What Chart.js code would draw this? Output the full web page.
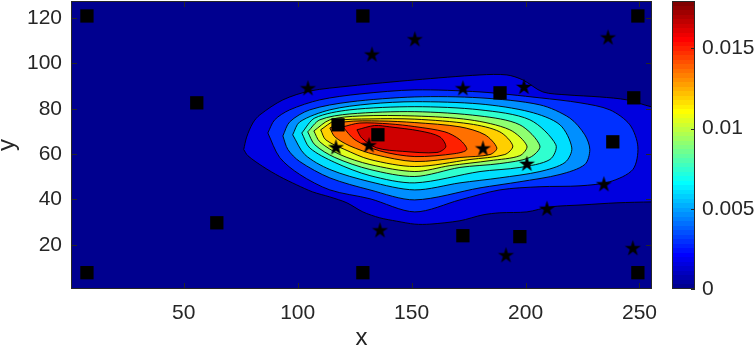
<!DOCTYPE html>
<html>
<head>
<meta charset="utf-8">
<script src="https://cdn.jsdelivr.net/npm/chart.js@4.4.3/dist/chart.umd.min.js"></script>
<style>
  html, body { margin: 0; background: #fff; }
  #main { position: absolute; left: 0; top: 0; width: 672px; height: 353px; }
  #bar { position: absolute; left: 660px; top: 0; width: 94px; height: 353px; }
</style>
</head>
<body>
<div id="main"><canvas id="plot"></canvas></div>
<div id="bar"><canvas id="cbar"></canvas></div>
<script>
// axis ticks
const xTicks = [50, 100, 150, 200, 250];
const yTicks = [20, 40, 60, 80, 100, 120];
const cbTicks = [0, 0.005, 0.01, 0.015];
const cMax = 0.01795;

// contour levels (lowest first)
const levels = [0, 0.0015, 0.003, 0.0045, 0.006, 0.0075, 0.009, 0.0105, 0.012, 0.0135, 0.015, 0.0165];

// contour rings, one per level above zero (x, y in data units)
const lvl1X = [76.3, 77.6, 80.3, 83.4, 93.5, 105.3, 122.9, 151.4, 180.0, 191.8, 198.8, 207.6, 218.2, 232.6, 244.5, 255.4, 262, 262, 255.4, 240.1, 225.2, 210.7, 200.6, 188.7, 181.3, 171.2, 158.0, 151.4, 143.5, 136.0, 128.6, 121.6, 114.1, 106.6, 99.6, 92.1, 84.7, 78.1];
const lvl1Y = [62.0, 67.5, 73.7, 77.3, 83.9, 87.8, 90.0, 92.7, 94.9, 94.9, 92.7, 87.4, 86.1, 85.2, 83.9, 80.8, 80, 38.9, 38.9, 38.5, 37.6, 36.7, 34.5, 34.1, 33.2, 30.6, 29.1, 29.1, 30.4, 31.9, 34.5, 38.5, 41.1, 43.3, 46.4, 50.1, 54.5, 59.3];
const lvl2X = [86.9, 89.9, 96.5, 109.7, 127.3, 151.4, 180.0, 206.3, 223.9, 237.0, 245.8, 249.3, 247.1, 237.0, 223.9, 206.3, 188.7, 171.2, 151.4, 131.7, 114.1, 100.9, 92.1];
const lvl2Y = [69.3, 75.1, 79.5, 83.9, 86.5, 88.3, 87.4, 84.8, 82.6, 79.5, 72.9, 63.2, 53.2, 47.8, 46.0, 45.6, 44.2, 39.8, 34.5, 40.3, 44.2, 51.0, 58.5];
const lvl3X = [93.5, 96.5, 105.3, 122.9, 151.4, 180.0, 206.3, 219.4, 226.0, 228.2, 226.0, 215.1, 197.5, 180.0, 151.4, 131.7, 114.1, 100.9, 95.7];
const lvl3Y = [68.0, 74.2, 79.5, 83.0, 85.2, 84.8, 81.7, 75.9, 68.5, 62.0, 55.4, 51.0, 47.8, 45.1, 39.8, 44.2, 49.5, 56.7, 62.0];
const lvl4X = [97.8, 100.9, 114.1, 131.7, 151.4, 180.0, 201.9, 215.1, 220.3, 217.3, 206.3, 188.7, 171.2, 151.4, 131.7, 114.1, 103.1];
const lvl4Y = [68.5, 74.2, 79.5, 82.1, 83.1, 82.1, 78.6, 72.9, 62.7, 56.3, 52.3, 49.5, 47.3, 44.2, 47.8, 53.2, 59.8];
const lvl5X = [101.8, 107.5, 122.9, 151.4, 180.0, 201.9, 213.3, 210.7, 197.5, 180.0, 151.4, 131.7, 116.3, 105.3];
const lvl5Y = [69.3, 75.9, 79.5, 80.9, 79.5, 75.1, 64.1, 57.6, 54.1, 52.3, 47.3, 50.5, 56.3, 62.7];
const lvl6X = [104.4, 109.7, 122.9, 151.4, 180.0, 197.5, 206.3, 201.9, 188.7, 171.2, 151.4, 131.7, 116.3, 107.5];
const lvl6Y = [69.8, 75.1, 77.7, 78.7, 76.8, 72.9, 63.6, 58.5, 55.8, 54.1, 50.1, 53.2, 58.5, 64.1];
const lvl7X = [107.1, 114.1, 127.3, 151.4, 175.6, 193.1, 200.6, 197.5, 184.4, 166.8, 151.4, 131.7, 118.5, 109.7];
const lvl7Y = [70.2, 75.1, 76.8, 76.8, 75.1, 70.7, 63.6, 59.3, 57.1, 54.9, 52.3, 55.4, 59.8, 65.4];
const lvl8X = [110.1, 116.3, 131.7, 151.4, 175.6, 188.7, 194.4, 190.9, 175.6, 151.4, 131.7, 120.7, 112.3];
const lvl8Y = [70.7, 74.6, 75.5, 75.4, 73.3, 69.8, 63.6, 59.8, 57.6, 54.5, 57.6, 62.0, 66.3];
const lvl9X = [114.1, 120.7, 136.0, 151.4, 171.2, 182.2, 187.4, 184.4, 171.2, 151.4, 133.8, 122.9, 116.3];
const lvl9Y = [71.5, 74.2, 74.6, 73.9, 72.0, 68.5, 62.7, 59.8, 58.5, 56.7, 59.8, 63.6, 67.6];
const lvl10X = [119.8, 127.3, 140.4, 151.4, 164.6, 171.2, 174.2, 169.0, 151.4, 136.0, 125.1];
const lvl10Y = [72.0, 73.7, 73.3, 72.1, 69.8, 66.3, 62.0, 60.2, 58.9, 61.4, 66.3];
const lvl11X = [126.0, 133.8, 140.4, 153.6, 162.4, 165.0, 161.1, 146.1, 134.7, 128.1];
const lvl11Y = [70.7, 72.6, 72.0, 70.2, 67.6, 63.2, 60.7, 61.2, 62.7, 67.1];

// markers
const squareX = [7.5, 128.6, 249.3, 7.5, 128.6, 249.3, 55.7, 64.5, 117.7, 135.2, 188.8, 247.5, 238.3, 172.5, 197.5];
const squareY = [120.9, 120.9, 120.9, 7.7, 7.7, 7.7, 82.6, 29.7, 72.9, 68.5, 87.0, 84.8, 65.4, 24.0, 23.6];
const starX = [104.5, 132.6, 151.4, 116.8, 131.3, 172.5, 199.3, 236.2, 181.3, 200.6, 136.1, 191.4, 209.4, 234.4, 247.1];
const starY = [89.2, 104.1, 110.8, 63.2, 64.1, 89.2, 89.8, 111.6, 62.7, 55.9, 26.6, 15.6, 36.1, 46.9, 18.7];

const rings = [
  [lvl1X, lvl1Y], [lvl2X, lvl2Y], [lvl3X, lvl3Y], [lvl4X, lvl4Y], [lvl5X, lvl5Y], [lvl6X, lvl6Y],
  [lvl7X, lvl7Y], [lvl8X, lvl8Y], [lvl9X, lvl9Y], [lvl10X, lvl10Y], [lvl11X, lvl11Y]
];

const axisColor = '#262626';
const family = '"Liberation Sans", Arial, Helvetica, sans-serif';
const tickFont = { family, size: 21 };
const labelFont = { family, size: 24, lineHeight: 1 };

// MATLAB jet(64), index 1..64
function jet(i) {
  const u = k => (k < 1 || k > 47) ? 0 : k <= 16 ? k / 16 : k <= 31 ? 1 : (48 - k) / 16;
  return [u(i - 24), u(i - 8), u(i + 8)];
}
function rgb(c) {
  return 'rgb(' + c.map(v => Math.round(v * 255)).join(',') + ')';
}
function levelColor(v) {
  const i = Math.min(64, Math.floor(v / cMax * 64) + 1);
  return rgb(jet(i));
}

function makeStar(R) {
  const c = document.createElement('canvas');
  const s = Math.ceil(2 * R + 2);
  c.width = c.height = s;
  const g = c.getContext('2d');
  g.fillStyle = '#000';
  g.beginPath();
  for (let k = 0; k < 10; k++) {
    const r = k % 2 ? R * 0.382 : R;
    const a = -Math.PI / 2 + k * Math.PI / 5;
    const px = s / 2 + r * Math.cos(a), py = s / 2 + r * Math.sin(a) + R * 0.1;
    if (k) g.lineTo(px, py); else g.moveTo(px, py);
  }
  g.closePath();
  g.fill();
  return c;
}

// drop the label overflow padding chart.js adds around each axis
function noEdgePadding(s) {
  s.paddingTop = 0; s.paddingBottom = 0; s.paddingLeft = 0; s.paddingRight = 0;
}

const datasets = rings.map(([xs, ys], i) => {
  const pts = xs.map((x, j) => ({ x, y: ys[j] }));
  pts.push(pts[0]);
  return {
    data: pts,
    showLine: true,
    fill: 'shape',
    tension: 0.3,
    backgroundColor: levelColor(levels[i + 1]),
    borderColor: 'rgba(0,0,0,0.9)',
    borderWidth: 1,
    pointRadius: 0,
    order: 50 - i
  };
});
datasets.push({
  data: squareX.map((x, i) => ({ x, y: squareY[i] })),
  pointStyle: 'rect',
  pointRadius: 9.4,
  backgroundColor: '#000',
  borderWidth: 0,
  order: 1
});
datasets.push({
  data: starX.map((x, i) => ({ x, y: starY[i] })),
  pointStyle: makeStar(8.5),
  order: 0
});

const plotFrame = {
  id: 'plotFrame',
  beforeDatasetsDraw(chart) {
    const { ctx, chartArea: a } = chart;
    ctx.save();
    ctx.fillStyle = levelColor(levels[0]);
    ctx.fillRect(a.left, a.top, a.right - a.left, a.bottom - a.top);
    ctx.restore();
  },
  afterDatasetsDraw(chart) {
    const { ctx, chartArea: a, scales: { x, y } } = chart;
    ctx.save();
    ctx.strokeStyle = axisColor;
    ctx.lineWidth = 1;
    ctx.beginPath();
    xTicks.forEach(v => {
      const p = Math.round(x.getPixelForValue(v)) + 0.5;
      ctx.moveTo(p, a.bottom); ctx.lineTo(p, a.bottom - 6);
      ctx.moveTo(p, a.top); ctx.lineTo(p, a.top + 6);
    });
    yTicks.forEach(v => {
      const p = Math.round(y.getPixelForValue(v)) + 0.5;
      ctx.moveTo(a.left, p); ctx.lineTo(a.left + 6, p);
      ctx.moveTo(a.right, p); ctx.lineTo(a.right - 6, p);
    });
    ctx.stroke();
    ctx.strokeRect(a.left + 0.5, a.top + 0.5, a.right - a.left - 1, a.bottom - a.top - 1);
    ctx.restore();
  }
};

new Chart(document.getElementById('plot'), {
  type: 'scatter',
  data: { datasets },
  options: {
    responsive: true,
    maintainAspectRatio: false,
    animation: false,
    devicePixelRatio: 1,
    layout: { autoPadding: false, padding: { top: 1, right: 20, left: 0, bottom: 0 } },
    plugins: { legend: { display: false }, tooltip: { enabled: false } },
    scales: {
      x: {
        type: 'linear', min: 0.5, max: 255.5,
        afterBuildTicks: s => { s.ticks = xTicks.map(value => ({ value })); },
        afterFit: s => { s.height = 64; noEdgePadding(s); },
        grid: { display: false, drawTicks: false },
        border: { display: false },
        ticks: { font: tickFont, color: axisColor, padding: 12, maxRotation: 0, autoSkip: false },
        title: { display: true, text: 'x', font: labelFont, color: axisColor, padding: { top: 0, bottom: 3 } }
      },
      y: {
        type: 'linear', min: 0.5, max: 127.5,
        afterBuildTicks: s => { s.ticks = yTicks.map(value => ({ value })); },
        afterFit: s => { s.width = 71; noEdgePadding(s); },
        grid: { display: false, drawTicks: false },
        border: { display: false },
        ticks: { font: tickFont, color: axisColor, padding: 9, autoSkip: false },
        title: { display: true, text: 'y', font: labelFont, color: axisColor, padding: { top: -5, bottom: 0 } }
      }
    }
  },
  plugins: [plotFrame]
});

// colorbar
function jetGradient(chart) {
  const a = chart.chartArea;
  if (!a) return '#000080';
  const g = chart.ctx.createLinearGradient(0, a.bottom, 0, a.top);
  for (let i = 1; i <= 64; i++) {
    const c = rgb(jet(i));
    g.addColorStop((i - 1) / 64, c);
    g.addColorStop(i / 64, c);
  }
  return g;
}

const barFrame = {
  id: 'barFrame',
  afterDatasetsDraw(chart) {
    const { ctx, chartArea: a, scales: { y } } = chart;
    ctx.save();
    ctx.strokeStyle = axisColor;
    ctx.lineWidth = 1;
    ctx.beginPath();
    cbTicks.forEach(v => {
      const p = Math.round(y.getPixelForValue(v)) + 0.5;
      ctx.moveTo(a.right, p); ctx.lineTo(a.right - 4, p);
    });
    ctx.stroke();
    ctx.strokeRect(a.left + 0.5, a.top + 0.5, a.right - a.left - 1, a.bottom - a.top - 1);
    ctx.restore();
  }
};

new Chart(document.getElementById('cbar'), {
  type: 'bar',
  data: {
    labels: [''],
    datasets: [{
      data: [cMax],
      backgroundColor: ctx => jetGradient(ctx.chart),
      borderWidth: 0,
      barPercentage: 1,
      categoryPercentage: 1
    }]
  },
  options: {
    responsive: true,
    maintainAspectRatio: false,
    animation: false,
    devicePixelRatio: 1,
    layout: { autoPadding: false, padding: { left: 12, top: 1, bottom: 64, right: 0 } },
    plugins: { legend: { display: false }, tooltip: { enabled: false } },
    scales: {
      x: { display: false },
      y: {
        position: 'right', min: 0, max: cMax,
        afterBuildTicks: s => { s.ticks = cbTicks.map(value => ({ value })); },
        afterFit: s => { s.width = 59; noEdgePadding(s); },
        grid: { display: false, drawTicks: false },
        border: { display: false },
        ticks: { font: tickFont, color: axisColor, padding: 7, callback: v => String(v) }
      }
    }
  },
  plugins: [barFrame]
});
</script>
</body>
</html>
